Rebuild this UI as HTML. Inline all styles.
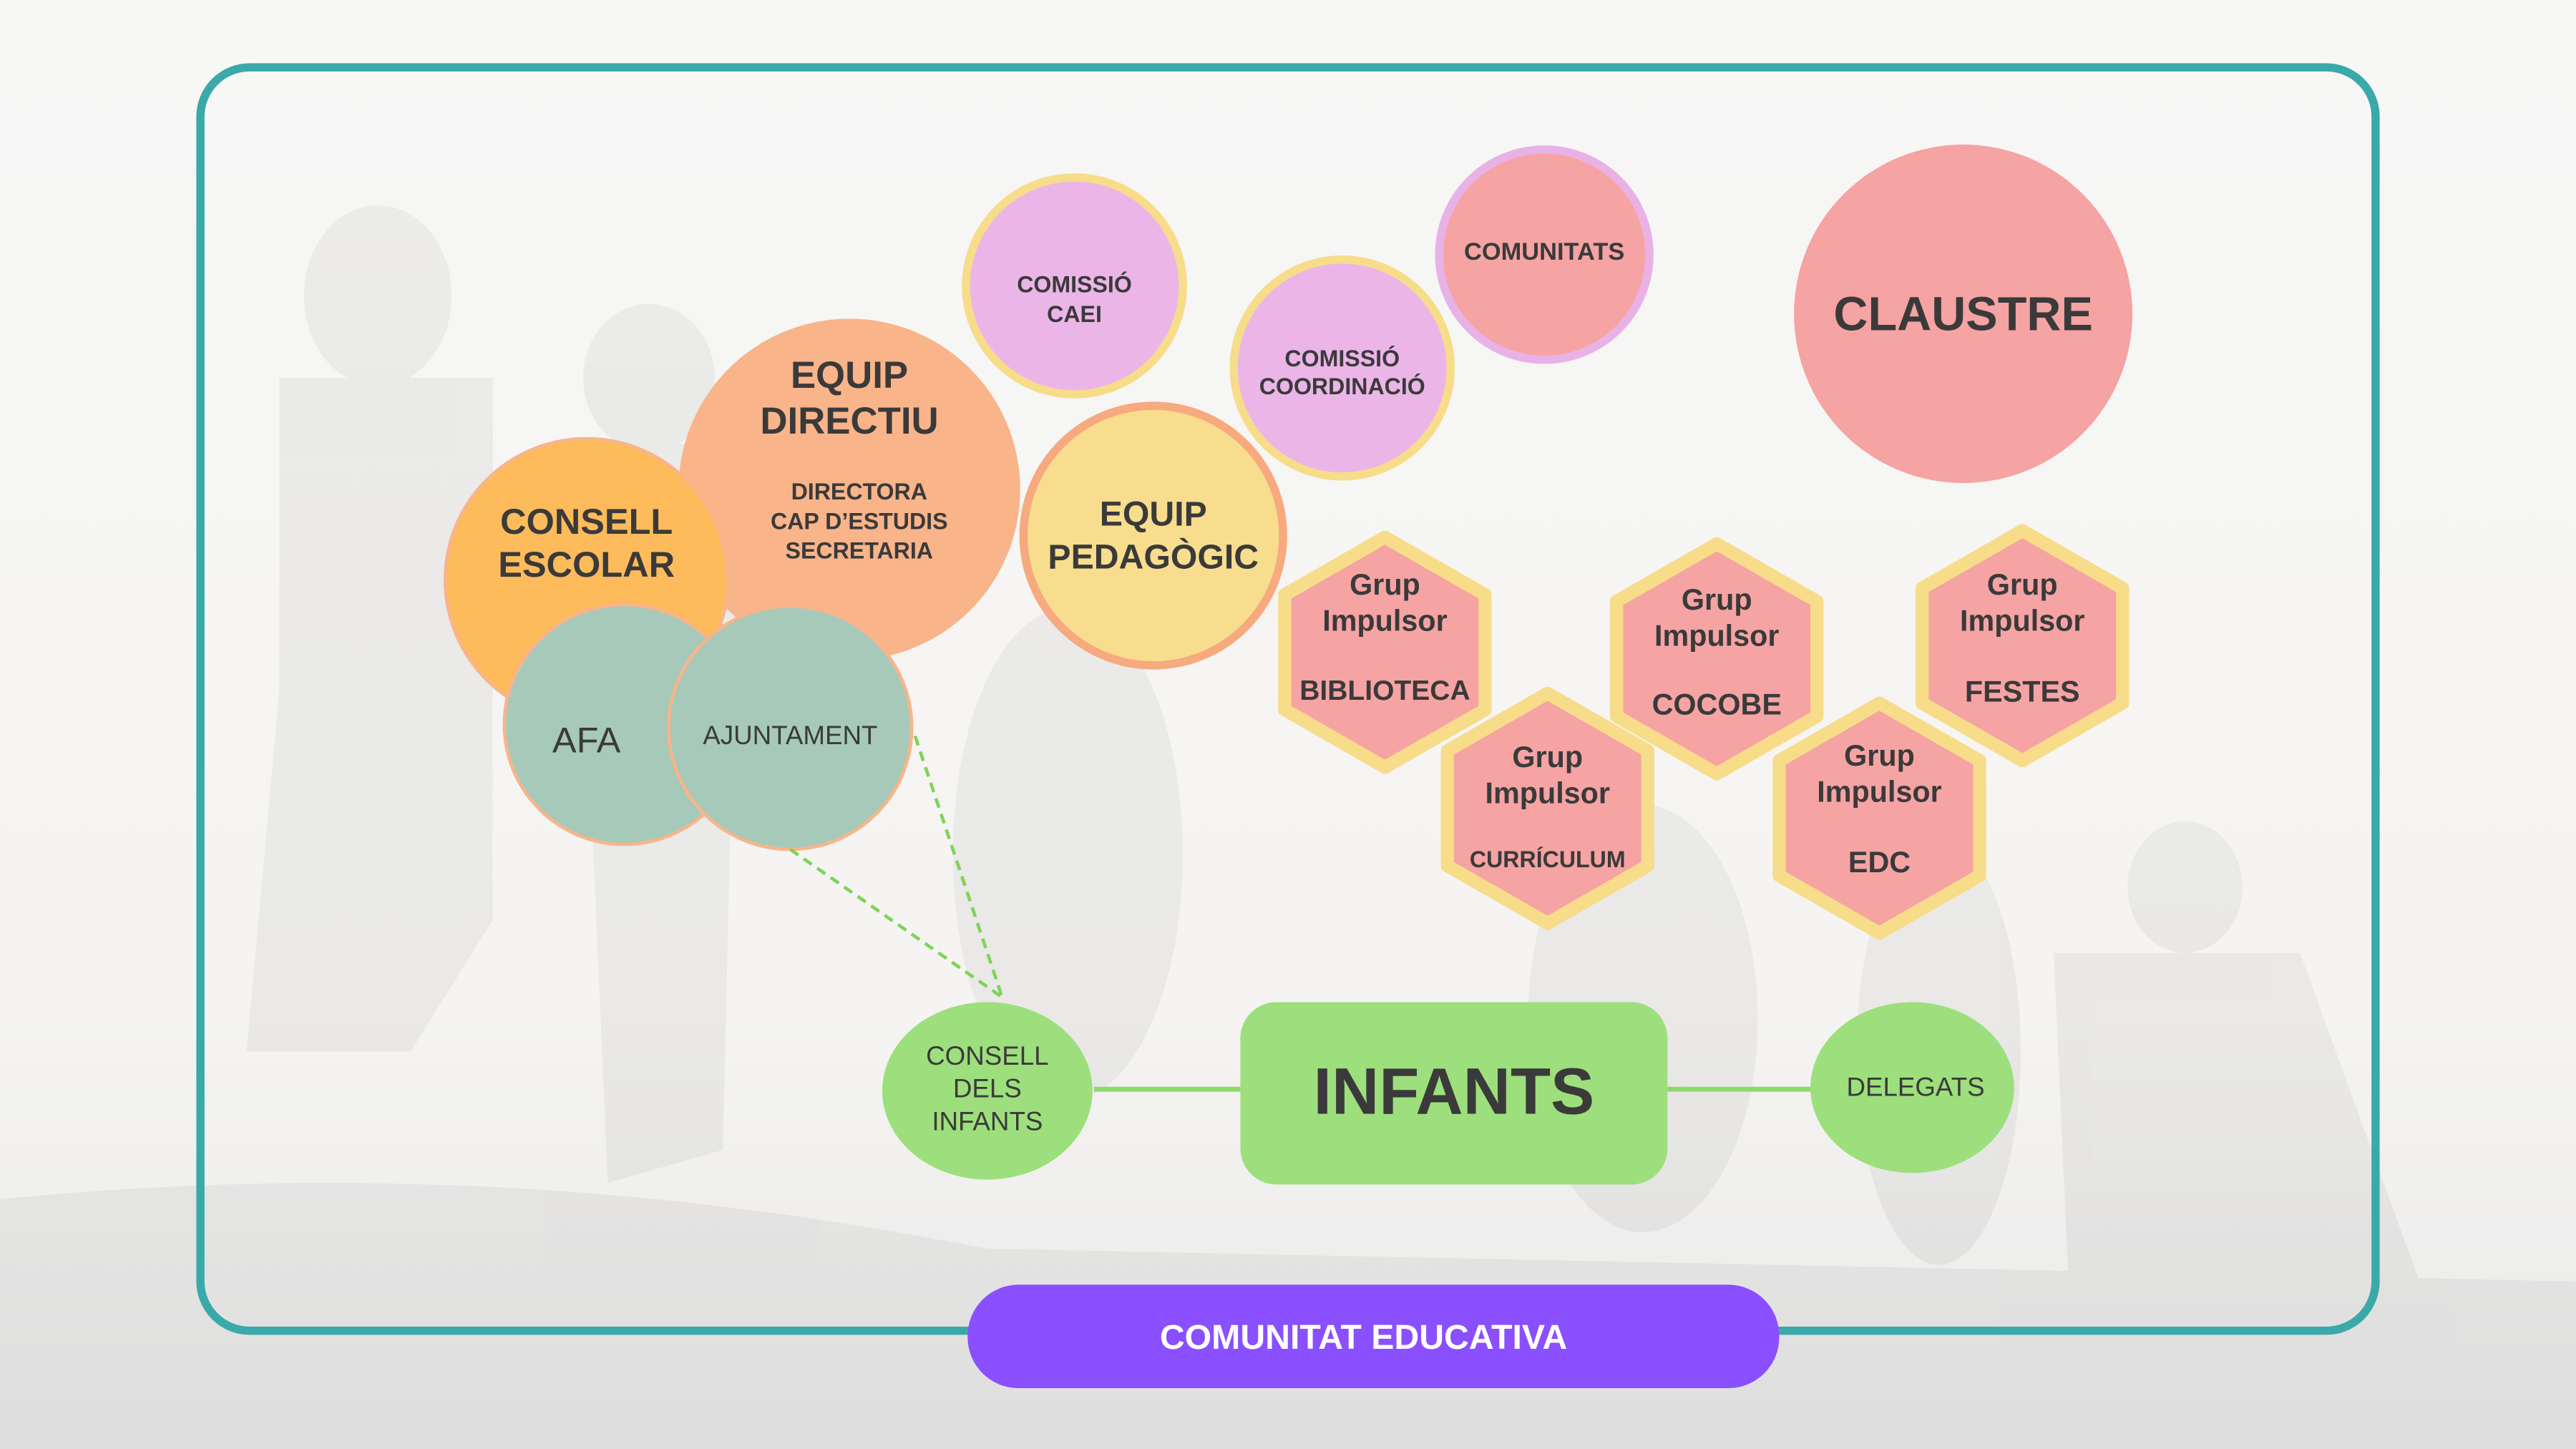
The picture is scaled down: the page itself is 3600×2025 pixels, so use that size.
<!DOCTYPE html>
<html><head><meta charset="utf-8"><style>
html,body{margin:0;padding:0;width:3600px;height:2025px;overflow:hidden;background:#f5f5f3}
svg{display:block}
text{font-family:"Liberation Sans",sans-serif;fill:#3a3a3a;text-anchor:middle;font-weight:bold}
.n{font-weight:normal}
</style></head><body>
<svg width="3600" height="2025" viewBox="0 0 1568 882" preserveAspectRatio="none">
<defs><linearGradient id="bg" x1="0" y1="0" x2="0" y2="1">
<stop offset="0" stop-color="#f7f7f6"/><stop offset="0.7" stop-color="#f5f4f2"/><stop offset="1" stop-color="#e9e9e9"/></linearGradient></defs>
<rect width="1568" height="882" fill="url(#bg)"/>
<g fill="#000" opacity="0.045">
<ellipse cx="230" cy="180" rx="45" ry="55"/><path d="M170 230 L300 230 L300 560 L250 640 L150 640 L170 420Z"/>
<ellipse cx="395" cy="230" rx="40" ry="45"/><path d="M350 270 L450 270 L440 700 L370 720Z"/>
<ellipse cx="1330" cy="540" rx="35" ry="40"/><path d="M1250 580 L1400 580 L1480 800 L1260 800Z"/>
<path d="M0 730 Q300 700 600 760 L1568 780 L1568 882 L0 882Z"/>
<ellipse cx="650" cy="520" rx="70" ry="150"/><ellipse cx="1000" cy="620" rx="70" ry="130"/><ellipse cx="1180" cy="640" rx="50" ry="130"/>
</g>
<rect x="122" y="41" width="1324" height="769" rx="30" fill="none" stroke="#3aa9a9" stroke-width="5"/>
<rect x="589" y="782" width="494" height="63" rx="31" fill="#8a4fff"/>
<text x="830" y="821" font-size="21" style="fill:#fff">COMUNITAT EDUCATIVA</text>

<circle cx="654" cy="174" r="66" fill="#ebb5e8" stroke="#f7dc8a" stroke-width="5"/>
<text x="654" y="178" font-size="14">COMISSIÓ</text><text x="654" y="196" font-size="14">CAEI</text>
<circle cx="940" cy="155" r="64" fill="#f6a3a3" stroke="#e8b2e6" stroke-width="5"/>
<text x="940" y="158" font-size="15">COMUNITATS</text>
<circle cx="817" cy="224" r="66" fill="#ebb5e8" stroke="#f7dc8a" stroke-width="5"/>
<text x="817" y="223" font-size="14">COMISSIÓ</text><text x="817" y="240" font-size="14">COORDINACIÓ</text>
<circle cx="1195" cy="191" r="103" fill="#f6a3a3"/>
<text x="1195" y="201" font-size="29">CLAUSTRE</text>

<circle cx="517" cy="298" r="104" fill="#f9b48a"/>
<text x="517" y="236" font-size="23">EQUIP</text><text x="517" y="264" font-size="23">DIRECTIU</text>
<text x="523" y="304" font-size="14">DIRECTORA</text><text x="523" y="322" font-size="14">CAP D’ESTUDIS</text><text x="523" y="340" font-size="14">SECRETARIA</text>
<circle cx="357" cy="353" r="86" fill="#fdbb5b" stroke="#f9b48a" stroke-width="2"/>
<text x="357" y="325" font-size="22">CONSELL</text><text x="357" y="351" font-size="22">ESCOLAR</text>
<circle cx="702" cy="326" r="79" fill="#f7dd8d" stroke="#f7a97f" stroke-width="5"/>
<text x="702" y="320" font-size="21">EQUIP</text><text x="702" y="346" font-size="21">PEDAGÒGIC</text>
<circle cx="380" cy="441" r="73" fill="#a7c9b9" stroke="#f9b48a" stroke-width="2"/>
<text x="357" y="458" font-size="22" class="n">AFA</text>
<circle cx="481" cy="443" r="74" fill="#a7c9b9" stroke="#f9b48a" stroke-width="2"/>
<text x="481" y="453" font-size="16" class="n">AJUNTAMENT</text>

<g fill="#f6a3a3" stroke="#f7dc8a" stroke-width="8" stroke-linejoin="round">
<polygon points="0,-70 61,-35 61,35 0,70 -61,35 -61,-35" transform="translate(843,397)"/>
<polygon points="0,-70 61,-35 61,35 0,70 -61,35 -61,-35" transform="translate(942,492)"/>
<polygon points="0,-70 61,-35 61,35 0,70 -61,35 -61,-35" transform="translate(1045,401)"/>
<polygon points="0,-70 61,-35 61,35 0,70 -61,35 -61,-35" transform="translate(1144,498)"/>
<polygon points="0,-70 61,-35 61,35 0,70 -61,35 -61,-35" transform="translate(1231,393)"/>
</g>
<g font-size="18">
<text x="843" y="362">Grup</text><text x="843" y="384">Impulsor</text><text x="843" y="426" font-size="17">BIBLIOTECA</text>
<text x="942" y="467">Grup</text><text x="942" y="489">Impulsor</text><text x="942" y="528" font-size="14">CURRÍCULUM</text>
<text x="1045" y="371">Grup</text><text x="1045" y="393">Impulsor</text><text x="1045" y="435">COCOBE</text>
<text x="1144" y="466">Grup</text><text x="1144" y="488">Impulsor</text><text x="1144" y="531">EDC</text>
<text x="1231" y="362">Grup</text><text x="1231" y="384">Impulsor</text><text x="1231" y="427">FESTES</text>
</g>

<line x1="557" y1="448" x2="610" y2="607" stroke="#7fd35a" stroke-width="2" stroke-dasharray="6,4"/>
<line x1="481" y1="517" x2="610" y2="607" stroke="#7fd35a" stroke-width="2" stroke-dasharray="6,4"/>
<line x1="666" y1="663" x2="755" y2="663" stroke="#8fd86a" stroke-width="3"/>
<line x1="1015" y1="663" x2="1103" y2="663" stroke="#8fd86a" stroke-width="3"/>
<rect x="755" y="610" width="260" height="111" rx="22" fill="#9ddf7c"/>
<text x="885" y="678" font-size="40">INFANTS</text>
<ellipse cx="601" cy="664" rx="64" ry="54" fill="#9ddf7c"/>
<text x="601" y="648" font-size="16" class="n">CONSELL</text><text x="601" y="668" font-size="16" class="n">DELS</text><text x="601" y="688" font-size="16" class="n">INFANTS</text>
<ellipse cx="1164" cy="662" rx="62" ry="52" fill="#9ddf7c"/>
<text x="1166" y="667" font-size="16" class="n">DELEGATS</text>
</svg>
</body></html>
